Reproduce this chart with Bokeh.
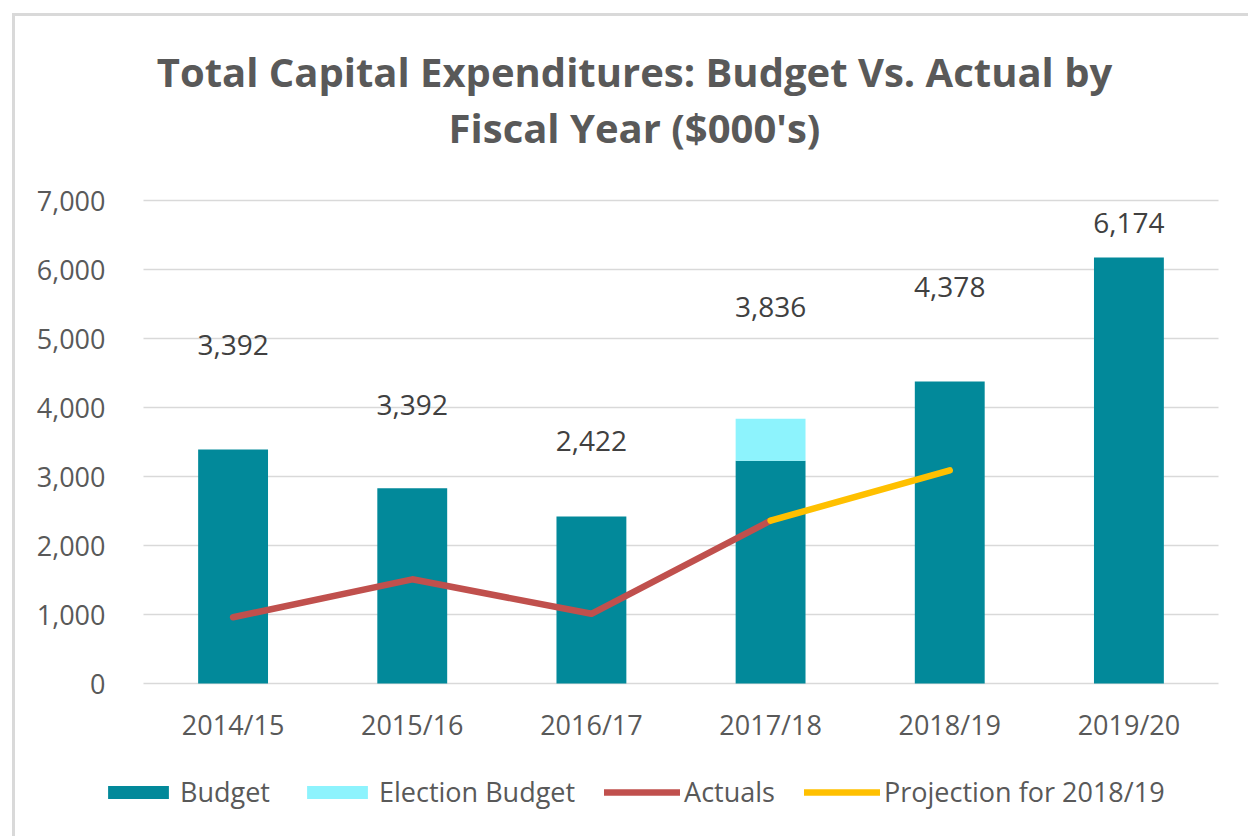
from bokeh.plotting import figure
from bokeh.models import (ColumnDataSource, Range1d, Legend, LegendItem,
                          Label, NumeralTickFormatter, FixedTicker)
from bokeh.core.properties import value
from bokeh.embed import file_html
from bokeh.resources import INLINE

# ---- data ----
categories = ["2014/15", "2015/16", "2016/17", "2017/18", "2018/19", "2019/20"]
budget = [3392, 2830, 2422, 3230, 4378, 6174]
election_years = ["2017/18"]
election_budget = [606]
label_text = ["3,392", "3,392", "2,422", "3,836", "4,378", "6,174"]
label_height = [4910, 4030, 3520, 5460, 5750, 6680]
actual_years = ["2014/15", "2015/16", "2016/17", "2017/18"]
actuals = [960, 1510, 1010, 2360]
projection_years = ["2017/18", "2018/19"]
projection = [2360, 3090]
y_ticks = [0, 1000, 2000, 3000, 4000, 5000, 6000, 7000]
title_lines = ["Total Capital Expenditures: Budget Vs. Actual by", "Fiscal Year ($000's)"]

FONT = "Open Sans"
TEAL = "#02899A"
CYAN = "#8DF3FD"
RED = "#C0504D"
GOLD = "#FFC000"
GRAY = "#595959"

# ---- layout (pixels inside the canvas) ----
W, H = 1248, 836
PLOT_L, PLOT_R, PLOT_T, PLOT_B = 143, 1218, 200, 683
n = len(categories)
px_x = (PLOT_R - PLOT_L) / n
px_y = (PLOT_B - PLOT_T) / y_ticks[-1]
x_start = -0.5 - PLOT_L / px_x
x_end = n - 0.5 + (W - PLOT_R) / px_x
y_start = -(H - PLOT_B) / px_y
y_end = y_ticks[-1] + PLOT_T / px_y

def xd(px):  # canvas px -> data x
    return x_start + px / px_x

def yd(py):  # canvas px from top -> data y
    return y_end - py / px_y

idx = {c: i for i, c in enumerate(categories)}
xpos = [idx[c] for c in categories]

p = figure(x_range=Range1d(x_start, x_end), y_range=Range1d(y_start, y_end),
           width=W, height=H, output_backend="svg", toolbar_location=None,
           title=None, min_border=0, min_border_left=0, min_border_right=0,
           min_border_top=0, min_border_bottom=0)
p.styles = {"box-shadow": "inset 12px 13px 0 0 white, inset 15px 16px 0 0 #d9d9d9"}
p.outline_line_color = None
p.background_fill_color = None
p.border_fill_color = None
p.xgrid.grid_line_color = None
p.ygrid.grid_line_color = None

# gridlines spanning the category area only
p.segment(x0=[-0.5] * len(y_ticks), x1=[n - 0.5] * len(y_ticks), y0=y_ticks, y1=y_ticks,
          line_color="#D9D9D9", line_width=1.3, level="underlay")

yax = p.yaxis[0]
yax.ticker = FixedTicker(ticks=y_ticks)
yax.formatter = NumeralTickFormatter(format="0,0")
yax.fixed_location = -0.5
xax = p.xaxis[0]
xax.ticker = FixedTicker(ticks=xpos)
xax.major_label_overrides = {i: c for i, c in zip(xpos, categories)}
xax.fixed_location = 0
for ax in (xax, yax):
    ax.axis_line_color = None
    ax.major_tick_line_color = None
    ax.minor_tick_line_color = None
    ax.major_tick_out = 0
    ax.major_tick_in = 0
    ax.major_label_text_font = FONT
    ax.major_label_text_font_size = "27px"
    ax.major_label_text_color = GRAY
yax.major_label_standoff = 38
xax.major_label_standoff = 22

src = ColumnDataSource(dict(x=xpos, budget=budget,
                            label_text=label_text, label_y=label_height))
r_budget = p.vbar(x="x", top="budget", width=0.39, source=src,
                  fill_color=TEAL, line_color=None)

el_x = [idx[c] for c in election_years]
el_bottom = [budget[idx[c]] for c in election_years]
el_top = [b + e for b, e in zip(el_bottom, election_budget)]
src_el = ColumnDataSource(dict(x=el_x, bottom=el_bottom, top=el_top))
r_elec = p.vbar(x="x", bottom="bottom", top="top", width=0.39, source=src_el,
                fill_color=CYAN, line_color=None)

r_act = p.line([idx[c] for c in actual_years], actuals, line_width=6.5, line_color=RED,
               line_cap="round", line_join="round")
r_proj = p.line([idx[c] for c in projection_years], projection, line_width=6.5,
                line_color=GOLD, line_cap="round", line_join="round")

p.text(x="x", y="label_y", text="label_text", source=src,
       text_font=value(FONT), text_font_size=value("28px"), text_color="#404040",
       text_align="center", text_baseline="middle")

# two-line title, centred on the chart area
for line, base_px in zip(title_lines, [71, 127]):
    p.add_layout(Label(x=xd(634), y=yd(base_px), text=line, text_align="center",
                       text_baseline="alphabetic", text_font=FONT,
                       text_font_size="40px", text_font_style="bold",
                       text_color=GRAY))

legend = Legend(items=[LegendItem(label="Budget", renderers=[r_budget]),
                       LegendItem(label="Election Budget", renderers=[r_elec]),
                       LegendItem(label="Actuals", renderers=[r_act]),
                       LegendItem(label="Projection for 2018/19", renderers=[r_proj])],
                orientation="horizontal", location=(100, 26),
                glyph_width=76, glyph_height=16, label_standoff=4, spacing=29,
                padding=0, margin=0, border_line_color=None,
                background_fill_alpha=0, label_text_font=FONT,
                label_text_font_size="27px", label_text_color=GRAY)
p.add_layout(legend)

open("out.html", "w").write(file_html(p, INLINE))
